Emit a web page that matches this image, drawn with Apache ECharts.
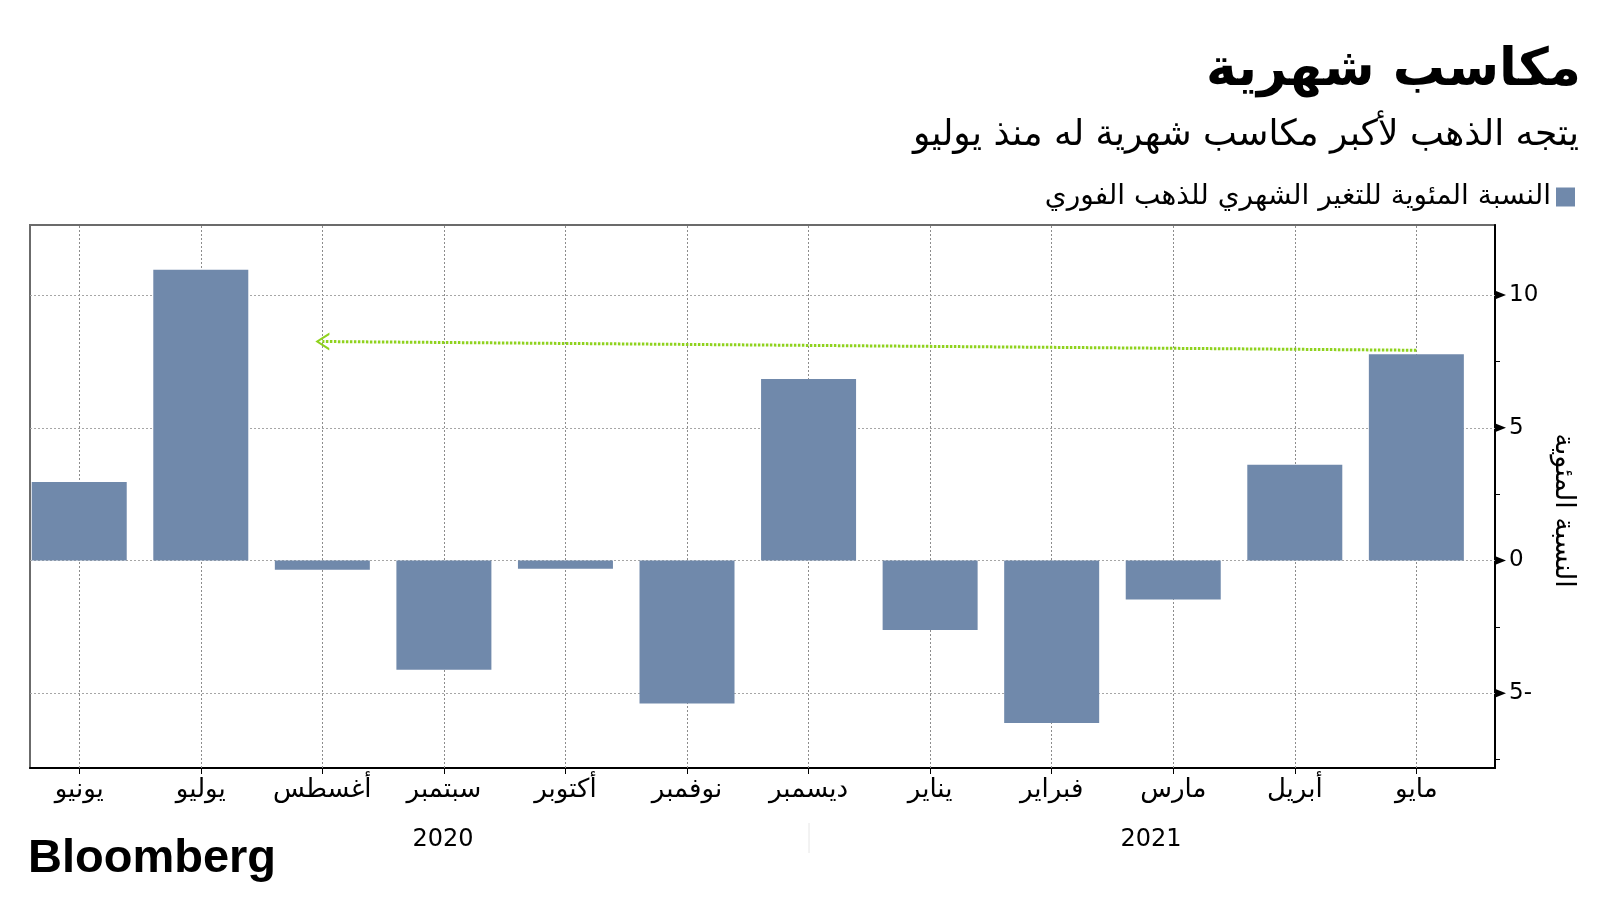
<!DOCTYPE html>
<html>
<head>
<meta charset="utf-8">
<script src="https://cdn.jsdelivr.net/npm/echarts@6/dist/echarts.min.js"></script>
<style>
html,body{margin:0;padding:0;background:#fff;}
#c{width:1600px;height:900px;}
</style>
</head>
<body>
<div id="c"></div>
<script>
const categories = ['يونيو','يوليو','أغسطس','سبتمبر','أكتوبر','نوفمبر','ديسمبر','يناير','فبراير','مارس','أبريل','مايو'];
const values = [2.96, 10.95, -0.35, -4.12, -0.31, -5.39, 6.84, -2.62, -6.12, -1.47, 3.61, 7.77];
const yTicks = [10, 5, 0, -5];
const yMinorTicks = [7.5, 2.5, -2.5, -7.5];
const years = ['2020', '2021'];
const arrowFrom = [11, 7.92];
const arrowTo = [2, 8.25];
const seriesName = 'النسبة المئوية للتغير الشهري للذهب الفوري';
const titleText = 'مكاسب شهرية';
const subtitleText = 'يتجه الذهب لأكبر مكاسب شهرية له منذ يوليو';
const yName = 'النسبة المئوية';

const X_MIN = -0.405, X_MAX = 11.647;
const Y_MIN = -7.82, Y_MAX = 12.64;
const FONT = '"DejaVu Sans", sans-serif';
const idx = categories.map((c, i) => i);

const chart = echarts.init(document.getElementById('c'), null, {renderer: 'canvas'});
const fmtY = v => v < 0 ? (String(-v) + '-') : String(v);

chart.setOption({
  animation: false,
  backgroundColor: '#fff',
  title: [
    {text: titleText, right: 14, top: 40, textStyle: {fontFamily: FONT, fontSize: 52, fontWeight: 'bold', color: '#000'}},
    {text: subtitleText, right: 16, top: 113, textStyle: {fontFamily: FONT, fontSize: 36, fontWeight: 'normal', color: '#000'}}
  ],
  legend: {
    data: [seriesName], right: 20, top: 178, align: 'right', itemWidth: 19, itemHeight: 19, itemGap: 6,
    icon: 'rect',
    textStyle: {fontFamily: FONT, fontSize: 28, color: '#000', padding: [0, 0, 0, 0]}
  },
  grid: {left: 30, right: 105, top: 225, bottom: 132, show: true, borderColor: '#6b6b6b', borderWidth: 2, backgroundColor: 'transparent'},
  xAxis: {
    type: 'value', min: X_MIN, max: X_MAX,
    axisLine: {show: true, onZero: false, lineStyle: {color: '#000', width: 2}},
    axisTick: {show: true, customValues: idx, length: 6, lineStyle: {color: '#000', width: 1}},
    axisLabel: {show: true, customValues: idx, margin: 9, fontFamily: FONT, fontSize: 26, color: '#000',
      formatter: v => categories[Math.round(v)]},
    splitLine: {show: false}
  },
  yAxis: [
    {
      type: 'value', position: 'right', min: Y_MIN, max: Y_MAX,
      name: yName, nameLocation: 'middle', nameGap: 54, nameRotate: -90,
      nameTextStyle: {fontFamily: FONT, fontSize: 27, color: '#000', padding: [0, 0, 0, 28]},
      axisLine: {show: true, onZero: false, lineStyle: {color: '#000', width: 2}},
      axisTick: {show: false, customValues: yTicks},
      axisLabel: {show: true, customValues: yTicks, margin: 14, fontFamily: FONT, fontSize: 23, color: '#000', formatter: fmtY},
      splitLine: {show: false}
    },
    {
      type: 'value', position: 'right', min: Y_MIN, max: Y_MAX, offset: 0,
      axisLine: {show: false, onZero: false},
      axisTick: {show: true, customValues: yMinorTicks, length: 5, lineStyle: {color: '#000', width: 1}},
      axisLabel: {show: false, customValues: yMinorTicks},
      splitLine: {show: false}
    }
  ],
  series: [
    {
      name: seriesName, type: 'bar', barWidth: 95, z: 2,
      itemStyle: {color: '#7089ab'},
      data: values.map((v, i) => [i, v]),
      markLine: {
        silent: true, z: 1, symbol: ['none', 'none'], label: {show: false},
        lineStyle: {color: '#8c8c8c', type: [2, 2], width: 1},
        emphasis: {disabled: true},
        data: [
          ...idx.map(i => ({xAxis: i})),
          ...yTicks.map(v => ({yAxis: v, lineStyle: {color: '#a6a6a6', type: [2, 2], width: 1}}))
        ]
      },
      markPoint: {
        silent: true, z: 6,
        symbol: 'path://M0,0 L10,5 L0,10 Z', symbolSize: [10, 8], symbolOffset: [6, 0],
        itemStyle: {color: '#000'}, label: {show: false},
        data: yTicks.map(v => ({coord: [X_MAX, v]}))
      }
    },
    {
      name: 'arrow', type: 'line', data: [], z: 5,
      markLine: {
        silent: true, z: 5,
        symbol: ['none', 'path://M0,10 L5,0 L10,10 L8.6,10 L5,2.6 L1.4,10 Z'], symbolSize: [18, 14],
        label: {show: false},
        lineStyle: {color: '#8fd21e', type: [2.5, 1.5], width: 3},
        itemStyle: {color: '#8fd21e'},
        data: [[{coord: arrowFrom}, {coord: arrowTo}]]
      }
    }
  ],
  graphic: [
    {type: 'text', left: 28, top: 836, style: {text: 'Bloomberg', font: 'bold 47px "Liberation Sans", Arial, sans-serif', fill: '#000'}},
    {type: 'text', x: 443, y: 840, style: {text: years[0], font: '24px ' + FONT, fill: '#000', textAlign: 'center', textVerticalAlign: 'middle'}},
    {type: 'text', x: 1151, y: 840, style: {text: years[1], font: '24px ' + FONT, fill: '#000', textAlign: 'center', textVerticalAlign: 'middle'}},
    {type: 'line', shape: {x1: 809, y1: 823, x2: 809, y2: 853}, style: {stroke: '#e6e6e6', lineWidth: 1}}
  ]
});
</script>
</body>
</html>
